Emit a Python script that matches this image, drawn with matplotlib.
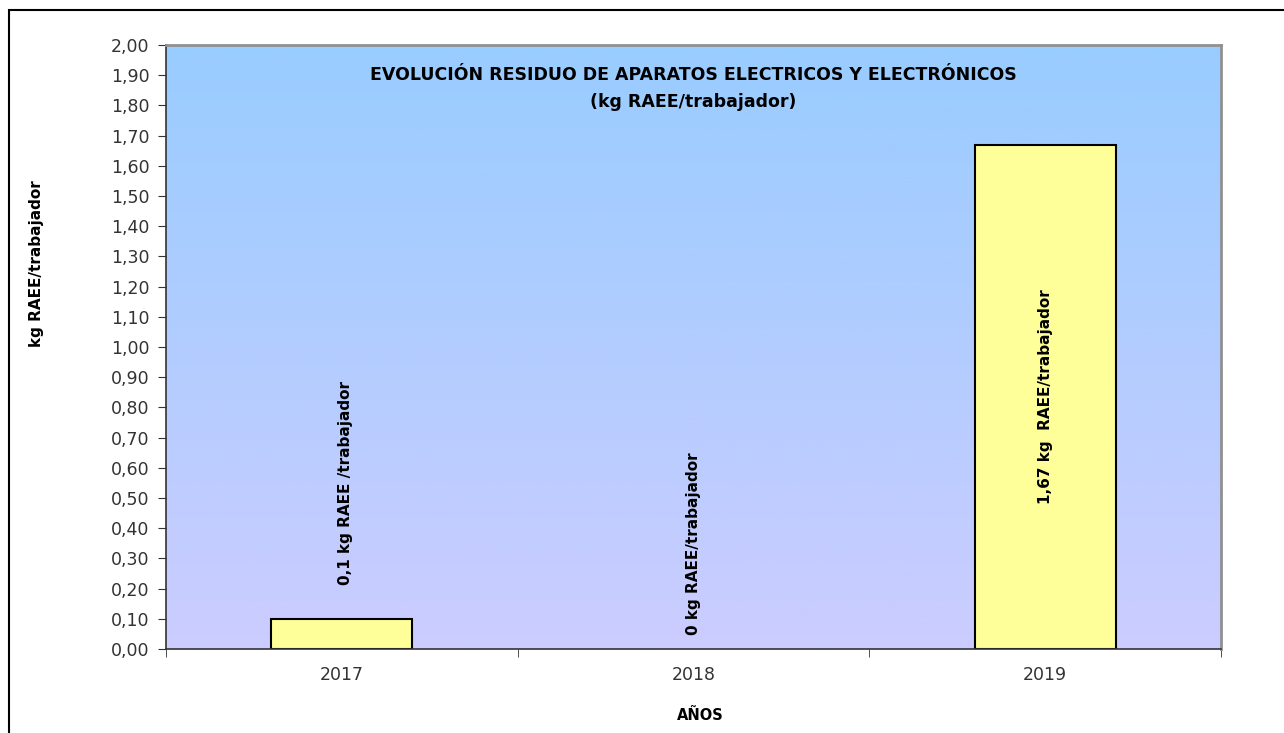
import numpy as np
import matplotlib
matplotlib.use("Agg")
import matplotlib.pyplot as plt
from matplotlib.patches import Rectangle
from matplotlib.colors import LinearSegmentedColormap

years = ["2017", "2018", "2019"]
values = [0.10, 0.0, 1.67]
labels = ["0,1 kg RAEE /trabajador", "0 kg RAEE/trabajador", "1,67 kg  RAEE/trabajador"]
yticks = np.round(np.arange(0, 2.001, 0.1), 2)

plt.rcParams['font.family'] = ['DejaVu Sans']

fig = plt.figure(figsize=(12.84, 7.33), dpi=100)
ax = fig.add_axes([166/1284, 1-649/733, (1221-166)/1284, (649-45)/733])

# outer frame
fig.patches.append(Rectangle((9/1284, -0.05), 1.2, 1-10/733+0.05, transform=fig.transFigure,
                             fill=False, edgecolor='black', linewidth=1.5, zorder=0))

# gradient background
cmap = LinearSegmentedColormap.from_list("bg", ["#CCCCFF", "#99CCFF"])
grad = np.linspace(0, 1, 256).reshape(-1, 1)
ax.imshow(grad, cmap=cmap, aspect='auto', origin='lower',
          extent=[-0.5, 2.5, 0, 2.0], zorder=0)

x = np.arange(len(years))
edges = ['black' if v > 0 else 'none' for v in values]
ax.bar(x, values, width=0.4, color='#FFFF99', edgecolor=edges, linewidth=1.5, zorder=2)

ax.set_xlim(-0.5, 2.5)
ax.set_ylim(0, 2.0)

ax.set_yticks(yticks)
ax.set_yticklabels([f"{v:.2f}".replace('.', ',') for v in yticks], fontsize=12.5, color='#333333')
ax.set_xticks(x)
ax.set_xticklabels(years, fontsize=12.5, color='#333333')
ax.set_xticks([-0.5, 0.5, 1.5, 2.5], minor=True)
ax.tick_params(axis='x', which='major', length=0, pad=12)
ax.tick_params(axis='x', which='minor', length=6, direction='out', color='#333333')
ax.tick_params(axis='y', length=6, direction='out', color='#333333', pad=6)

for s in ['top', 'right']:
    ax.spines[s].set_color('#909090')
    ax.spines[s].set_linewidth(2)
for s in ['left', 'bottom']:
    ax.spines[s].set_color('#333333')
    ax.spines[s].set_linewidth(1.2)

# value labels
ax.text(x[0] + 0.01, 0.212, labels[0], rotation=90, ha='center', va='bottom',
        fontsize=11, fontweight='bold', zorder=3)
ax.text(x[1], 0.046, labels[1], rotation=90, ha='center', va='bottom',
        fontsize=11, fontweight='bold', zorder=3)
ax.text(x[2], values[2] / 2, labels[2], rotation=90, ha='center', va='center',
        fontsize=11, fontweight='bold', zorder=3)

ax.text(1.0, 1.855, "EVOLUCIÓN RESIDUO DE APARATOS ELECTRICOS Y ELECTRÓNICOS\n(kg RAEE/trabajador)",
        ha='center', va='center', fontsize=12.5, fontweight='bold', linespacing=1.65, zorder=3)

fig.text(37/1284, 1-264/733, "kg RAEE/trabajador", rotation=90, ha='center', va='center',
         fontsize=11, fontweight='bold')
fig.text(700/1284, 1-715/733, "AÑOS", ha='center', va='center', fontsize=10.5, fontweight='bold')

fig.savefig("out.png", dpi=100)
